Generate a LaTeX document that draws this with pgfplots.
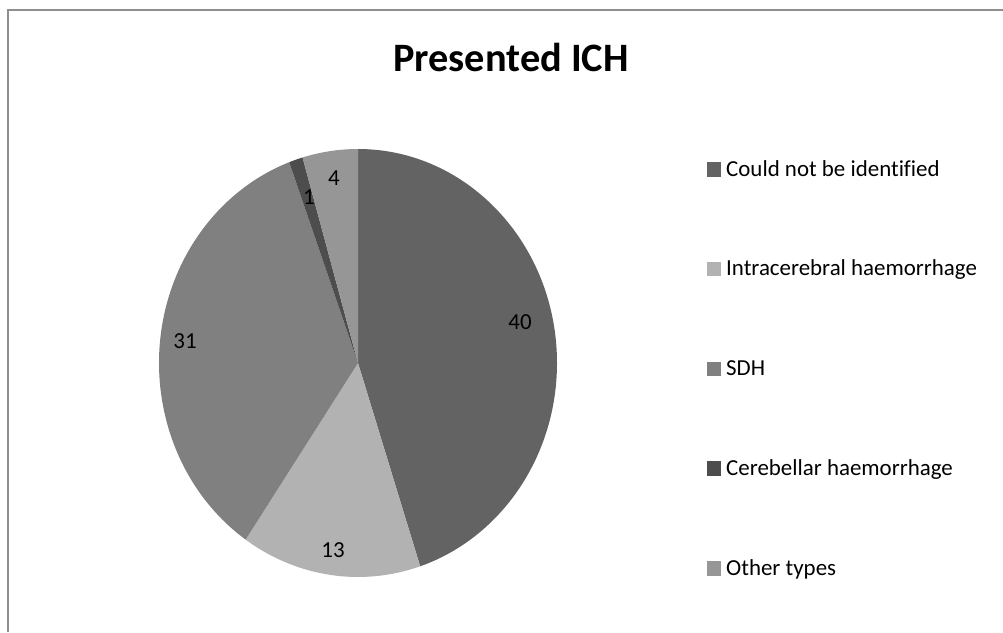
\documentclass[border=0pt]{standalone}
\usepackage{pgfplots}
\usepackage{pgfplotstable}
\usepackage{fontspec}
\setmainfont{Carlito}[Ligatures=NoCommon]
\pgfplotsset{compat=1.18}
\definecolor{cA}{HTML}{636363}
\definecolor{cB}{HTML}{B2B2B2}
\definecolor{cC}{HTML}{808080}
\definecolor{cD}{HTML}{4D4D4D}
\definecolor{cE}{HTML}{969696}
\definecolor{frame}{HTML}{8E8E8E}
\pgfplotstableread[col sep=comma]{
name,value,color,lx,ly
Could not be identified,40,cA,520,322.5
Intracerebral haemorrhage,13,cB,333,550
SDH,31,cC,185,341
Cerebellar haemorrhage,1,cD,309,197
Other types,4,cE,334,178
}\pietable
\begin{document}
\begin{tikzpicture}
\begin{axis}[width=1003bp,height=632bp,scale only axis,
  xmin=0,xmax=1003,ymin=0,ymax=632,y dir=reverse,hide axis,clip=false]
\draw[frame,line width=2bp] (axis cs:7.5,632) -- (axis cs:7.5,10) -- (axis cs:1003,10);
\node[anchor=base,font=\bfseries\fontsize{40.5}{48}\selectfont] at (axis cs:511,71.5) {Presented ICH};
\gdef\total{0}
\pgfplotsinvokeforeach{0,...,4}{%
  \pgfplotstablegetelem{#1}{value}\of\pietable
  \pgfmathsetmacro{\tmp}{\total+\pgfplotsretval}%
  \xdef\total{\tmp}%
}
\gdef\cum{90}
\pgfplotsinvokeforeach{0,...,4}{%
  \pgfplotstablegetelem{#1}{value}\of\pietable \edef\v{\pgfplotsretval}%
  \pgfplotstablegetelem{#1}{color}\of\pietable \edef\c{\pgfplotsretval}%
  \pgfplotstablegetelem{#1}{name}\of\pietable \edef\n{\pgfplotsretval}%
  \pgfplotstablegetelem{#1}{lx}\of\pietable \edef\lx{\pgfplotsretval}%
  \pgfplotstablegetelem{#1}{ly}\of\pietable \edef\ly{\pgfplotsretval}%
  \pgfmathsetmacro{\start}{\cum}%
  \pgfmathsetmacro{\stop}{\cum-360*\v/\total}%
  \xdef\cum{\stop}%
  \pgfmathsetmacro{\rowy}{169+99.75*#1}%
  \edef\cmd{%
    \noexpand\fill[\c] (axis cs:358,363) -- ++(\start:199bp and 214bp)
      arc[start angle=\start,end angle=\stop,x radius=199bp,y radius=214bp] -- cycle;
    \noexpand\node[font=\noexpand\fontsize{23}{27}\noexpand\selectfont,inner sep=0pt] at (axis cs:\lx,\ly) {\v};
    \noexpand\fill[\c] (axis cs:707,\rowy-7) rectangle (axis cs:721,\rowy+7.5);
    \noexpand\node[anchor=base west,inner sep=0pt,font=\noexpand\fontsize{23}{27}\noexpand\selectfont] at (axis cs:726,\rowy+7) {\n};
  }%
  \cmd
}
\end{axis}
\pgfresetboundingbox
\useasboundingbox (current axis.south west) rectangle (current axis.north east);
\end{tikzpicture}
\end{document}
